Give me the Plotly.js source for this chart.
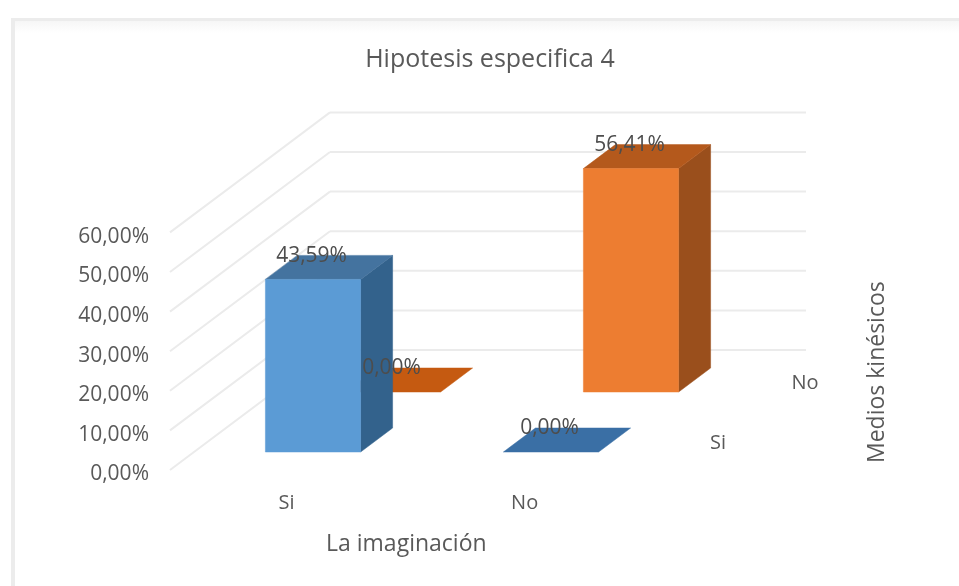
<!DOCTYPE html>
<html>
<head>
<meta charset="utf-8">
<script src="https://cdn.plot.ly/plotly-3.0.1.min.js"></script>
<style>
html,body{margin:0;padding:0;background:#fff;width:959px;height:586px;overflow:hidden}
#card{position:absolute;left:11px;top:18px;width:960px;height:580px;background:#fff;border-left:4px solid #ececec;border-top:3px solid #ececec;box-sizing:border-box}
#card:before{content:"";position:absolute;left:0;top:0;right:0;height:12px;background:linear-gradient(#f6f6f6,#fff)}
#plot{position:absolute;left:0;top:0;width:959px;height:586px;filter:blur(0.6px)}
</style>
</head>
<body>
<div id="card"></div>
<div id="plot"></div>
<script>
const categories = ['Si', 'No'];
const seriesNames = ['Si', 'No'];
const valuesSi = [43.59, 0];
const valuesNo = [0, 56.41];
const yTicks = [0, 10, 20, 30, 40, 50, 60];

const fmt = v => v.toFixed(2).replace('.', ',') + '%';
const W = 959, H = 586, L = 150, B = 100;
const PX_PER_CAT = 238, PX_PER_DEPTH = 80, PX_PER_PCT = 3.96, X_ORIGIN = 170, Y_ZERO = 470;
const DEPTH_X = PX_PER_DEPTH / PX_PER_CAT, DEPTH_Y = 60 / PX_PER_PCT;
const NC = categories.length, ND = seriesNames.length;

const P = (c, d, v) => [c + d * DEPTH_X, v + d * DEPTH_Y];
function poly(pts, color) {
  const xy = pts.map(p => P(p[0], p[1], p[2]));
  xy.push(xy[0]);
  return {type: 'scatter', mode: 'lines', x: xy.map(p => p[0]), y: xy.map(p => p[1]),
    fill: 'toself', fillcolor: color, line: {color: color, width: 0.5}, hoverinfo: 'skip', showlegend: false};
}
function line(a, b) {
  const p = P(a[0], a[1], a[2]), q = P(b[0], b[1], b[2]);
  return {type: 'scatter', mode: 'lines', x: [p[0], q[0]], y: [p[1], q[1]],
    line: {color: '#ebebeb', width: 2}, hoverinfo: 'skip', showlegend: false};
}
const GAP = 0.3, SIZE = 0.4;
function bar(c, s, v, cols) {
  const x0 = c + GAP, x1 = x0 + SIZE, d0 = s + GAP, d1 = d0 + SIZE;
  const out = [];
  if (v > 0) {
    out.push(poly([[x1, d0, 0], [x1, d1, 0], [x1, d1, v], [x1, d0, v]], cols.side));
    out.push(poly([[x0, d0, v], [x1, d0, v], [x1, d1, v], [x0, d1, v]], cols.top));
    out.push(poly([[x0, d0, 0], [x1, d0, 0], [x1, d0, v], [x0, d0, v]], cols.front));
  } else {
    out.push(poly([[x0, d0, 0], [x1, d0, 0], [x1, d1, 0], [x0, d1, 0]], cols.flat));
  }
  return out;
}
const blue = {front: '#5b9bd5', top: '#44739f', side: '#33628c', flat: '#3a6fa5'};
const orange = {front: '#ed7d31', top: '#b4591c', side: '#9a4f1c', flat: '#c55a11'};

const traces = [];
yTicks.forEach(t => {
  traces.push(line([0, 0, t], [0, ND, t]));
  traces.push(line([0, ND, t], [NC, ND, t]));
});
// back row first, then front row
traces.push(...bar(0, 1, valuesNo[0], orange));
traces.push(...bar(1, 1, valuesNo[1], orange));
traces.push(...bar(1, 0, valuesSi[1], blue));
traces.push(...bar(0, 0, valuesSi[0], blue));

const LABEL_UP = 5.8, CENTER = GAP + SIZE / 2;
function labels(vals, s) {
  const xy = vals.map((v, c) => P(c + CENTER - 0.006, s + GAP, v + LABEL_UP));
  return {type: 'scatter', mode: 'text', x: xy.map(p => p[0]), y: xy.map(p => p[1]),
    text: vals.map(fmt), textposition: 'middle center', cliponaxis: false,
    textfont: {family: 'Open Sans, sans-serif', size: 21, color: '#4d4d4d'}, hoverinfo: 'skip', showlegend: false};
}
traces.push(labels(valuesNo, 1));
traces.push(labels(valuesSi, 0));

const depthLabelX = d => 2.12 + d * 87 / PX_PER_CAT;
traces.push({type: 'scatter', mode: 'text',
  x: seriesNames.map((_, d) => depthLabelX(d + 0.5)),
  y: seriesNames.map((_, d) => (d + 0.5) * DEPTH_Y - 1),
  text: seriesNames, textposition: 'middle center',
  textfont: {family: 'Open Sans, sans-serif', size: 20, color: '#595959'}, hoverinfo: 'skip', showlegend: false});

const font = {family: 'Open Sans, sans-serif', color: '#595959'};
const px = v => (v - L) / (W - L), py = v => (H - B - v) / (H - B);
const plotH = H - B, yBottom = (Y_ZERO - plotH) / PX_PER_PCT, yTop = yBottom + plotH / PX_PER_PCT;

const layout = {
  width: W, height: H, margin: {l: L, r: 0, t: 0, b: B},
  paper_bgcolor: 'rgba(0,0,0,0)', plot_bgcolor: 'rgba(0,0,0,0)',
  showlegend: false,
  title: {text: 'Hipotesis especifica 4', x: 490 / W, xanchor: 'center', y: 1 - 58 / H, yanchor: 'middle',
    font: {family: font.family, color: font.color, size: 25}},
  xaxis: {range: [(L - X_ORIGIN) / PX_PER_CAT, (W - X_ORIGIN) / PX_PER_CAT], showgrid: false, zeroline: false,
    showline: false, ticks: '', tickmode: 'array', tickvals: categories.map((_, i) => i + 0.49), ticktext: categories,
    ticklabelstandoff: 2,
    tickfont: {family: font.family, color: font.color, size: 20}, fixedrange: true},
  yaxis: {range: [yBottom, yTop], showgrid: false, zeroline: false, showline: false, ticks: '',
    tickmode: 'array', tickvals: yTicks, ticktext: yTicks.map(fmt), ticklabelshift: 3,
    tickfont: {family: font.family, color: font.color, size: 21}, fixedrange: true},
  annotations: [
    {text: 'La imaginación', xref: 'paper', yref: 'paper', x: px(406), y: py(542), showarrow: false,
      xanchor: 'center', yanchor: 'middle', font: {family: font.family, color: font.color, size: 23}},
    {text: 'Medios kinésicos', xref: 'paper', yref: 'paper', x: px(875), y: py(372), showarrow: false, textangle: -90,
      xanchor: 'center', yanchor: 'middle', font: {family: font.family, color: font.color, size: 23}}
  ]
};
Plotly.newPlot('plot', traces, layout, {displayModeBar: false, staticPlot: true});
</script>
</body>
</html>
